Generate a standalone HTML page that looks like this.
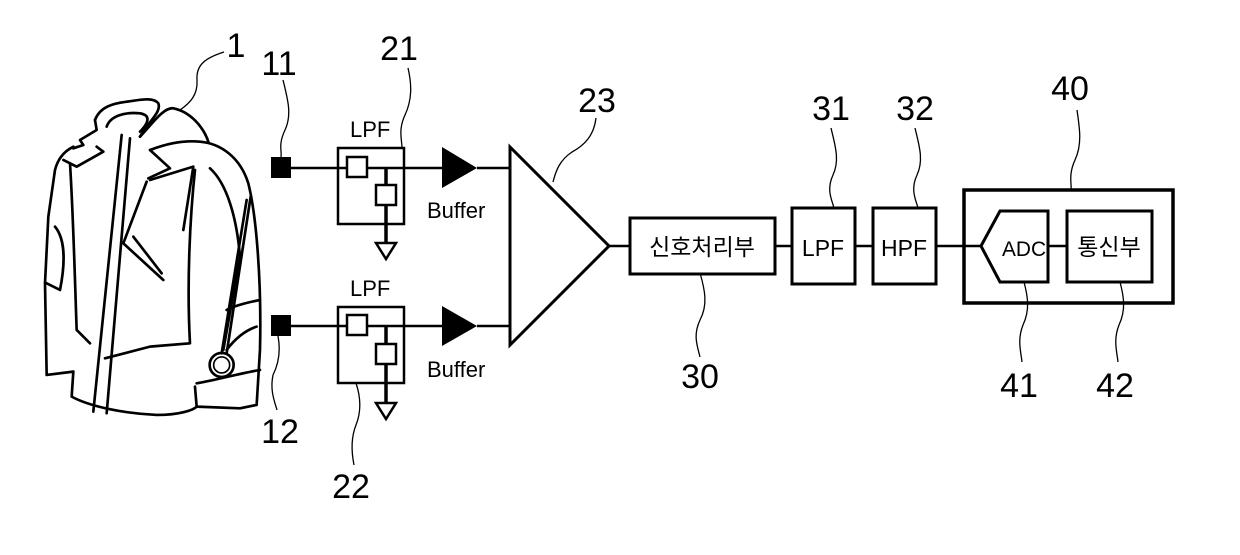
<!DOCTYPE html>
<html><head><meta charset="utf-8"><style>
html,body{margin:0;padding:0;background:#fff;}
svg{display:block;}
text{font-family:"Liberation Sans","Noto Sans CJK KR",sans-serif;fill:#000;}
.n{font-size:34px;}
</style></head><body>
<svg width="1240" height="555" viewBox="0 0 1240 555" xmlns="http://www.w3.org/2000/svg">
<g transform="translate(40,50) scale(0.3333)" fill="none" stroke="#000" stroke-width="8" stroke-linejoin="round" stroke-linecap="round">
<path d="M165,210 C180,170 220,160 260,155 C300,150 340,140 355,160 C365,185 330,210 300,260"/>
<path d="M200,230 C210,200 250,185 300,190 C330,195 330,215 300,245"/>
<path d="M300,260 C330,230 370,170 400,175 C450,185 490,230 505,275"/>
<path d="M165,210 L170,240 L120,270 L130,285 L100,295"/>
<path d="M100,290 C80,300 55,320 45,360 L25,500 L15,700 L20,975 L100,965"/>
<path d="M70,330 L110,350 L190,305 L170,290"/>
<path d="M90,340 C100,500 105,700 110,840 L150,880"/>
<path d="M45,530 C70,560 80,620 60,720 L20,700"/>
<path d="M100,965 L95,1040 C150,1070 250,1090 350,1095 C420,1095 460,1080 470,1070"/>
<path d="M245,255 L160,1085"/>
<path d="M270,265 L200,1090"/>
<path d="M330,300 C370,285 420,270 480,275 C540,280 600,320 625,400 C650,500 665,700 660,900 L650,1065 L600,1075 L470,1070 L465,1010"/>
<path d="M330,300 L390,355 L325,385"/>
<path d="M330,390 L460,350 L430,540"/>
<path d="M320,395 L250,580 L370,690"/>
<path d="M280,560 L365,670"/>
<path d="M465,360 C450,500 440,700 450,880 L330,890 L195,925"/>
<path d="M510,355 C560,400 590,500 600,620 L550,900"/>
<path d="M620,450 L545,910"/>
<path d="M632,440 L560,910"/>
<path d="M560,780 C600,760 640,755 660,750"/>
<path d="M470,1000 C530,990 600,970 660,960"/>
<path d="M560,900 C590,860 620,840 650,830"/>
<circle cx="545" cy="945" r="36"/>
<circle cx="545" cy="945" r="24" stroke-width="5"/>
</g>

<g fill="none" stroke="#000" stroke-width="1.3">
<path d="M224,52 C205,58 196,65 197,80 C198,95 190,103 180,110"/>
<path d="M283,80 C288,100 292,115 285,130 C278,145 282,150 281,157"/>
<path d="M408,68 C412,85 412,100 405,115 C398,130 402,140 402,148"/>
<path d="M596,118 C594,135 585,145 572,152 C560,160 556,170 553,182"/>
<path d="M278,336 C281,352 278,365 273,375 C270,390 274,400 277,410"/>
<path d="M356,383 C360,395 362,410 356,425 C350,440 352,455 354,465"/>
<path d="M831,128 C835,145 840,160 833,175 C826,190 832,200 834,208"/>
<path d="M915,128 C919,145 924,160 917,175 C910,190 916,200 918,208"/>
<path d="M1077,110 C1080,130 1082,145 1075,160 C1068,175 1072,185 1071,190"/>
<path d="M700,273 C705,290 708,305 700,320 C693,335 697,345 700,357"/>
<path d="M1024,282 C1028,297 1030,310 1023,325 C1017,340 1021,352 1022,362"/>
<path d="M1120,282 C1124,297 1126,310 1119,325 C1113,340 1117,352 1118,362"/>
</g>

<g fill="none" stroke="#000" stroke-width="2.5">
<line x1="290" y1="168" x2="442" y2="168"/>
<line x1="477" y1="168" x2="510" y2="168"/>
<rect x="338" y="148" width="66" height="76"/>
<rect x="347" y="157" width="20" height="20" fill="#fff"/>
<line x1="386" y1="168" x2="386" y2="243" stroke-width="3.5"/>
<rect x="376" y="185" width="20" height="20" fill="#fff"/>
<path d="M376,243 L396,243 L386,259 Z" fill="#fff"/>
<line x1="290" y1="326" x2="442" y2="326"/>
<line x1="477" y1="326" x2="510" y2="326"/>
<rect x="338" y="307" width="66" height="76"/>
<rect x="347" y="315" width="20" height="20" fill="#fff"/>
<line x1="386" y1="326" x2="386" y2="403" stroke-width="3.5"/>
<rect x="376" y="344" width="20" height="20" fill="#fff"/>
<path d="M376,403 L396,403 L386,419 Z" fill="#fff"/>
<path d="M510,147 L510,345 L609,246 Z" stroke-width="3"/>
<line x1="609" y1="246" x2="630" y2="246"/>
<rect x="630" y="218" width="145" height="56" stroke-width="3"/>
<line x1="775" y1="246" x2="792" y2="246"/>
<rect x="792" y="208" width="63" height="76" stroke-width="3"/>
<line x1="855" y1="246" x2="873" y2="246"/>
<rect x="873" y="208" width="63" height="76" stroke-width="3"/>
<line x1="936" y1="246" x2="981" y2="246"/>
<rect x="964" y="190" width="209" height="113" stroke-width="3.5"/>
<path d="M981,246 L1000,211 L1048,211 L1048,282 L1000,282 Z" stroke-width="3"/>
<line x1="1048" y1="246" x2="1067" y2="246"/>
<rect x="1067" y="211" width="85" height="71" stroke-width="3"/>
</g>
<rect x="271" y="157" width="20" height="21" fill="#000"/>
<rect x="271" y="315" width="20" height="21" fill="#000"/>
<path d="M442,147 L477,168 L442,188 Z" fill="#000"/>
<path d="M442,306 L477,326 L442,346 Z" fill="#000"/>

<text x="350" y="137" font-size="22">LPF</text>
<text x="350" y="296" font-size="22">LPF</text>
<text x="427" y="218" font-size="22">Buffer</text>
<text x="427" y="377" font-size="22">Buffer</text>
<text x="702" y="255" font-size="23" text-anchor="middle">신호처리부</text>
<text x="823" y="256" font-size="23" text-anchor="middle">LPF</text>
<text x="904" y="256" font-size="23" text-anchor="middle">HPF</text>
<text x="1002" y="256" font-size="21" textLength="44" lengthAdjust="spacingAndGlyphs">ADC</text>
<text x="1109" y="255" font-size="23" text-anchor="middle">통신부</text>

<text x="236" y="57" text-anchor="middle" class="n">1</text>
<text x="279" y="75" text-anchor="middle" class="n">11</text>
<text x="399" y="60" text-anchor="middle" class="n">21</text>
<text x="597" y="112" text-anchor="middle" class="n">23</text>
<text x="280" y="443" text-anchor="middle" class="n">12</text>
<text x="351" y="498" text-anchor="middle" class="n">22</text>
<text x="831" y="120" text-anchor="middle" class="n">31</text>
<text x="915" y="120" text-anchor="middle" class="n">32</text>
<text x="1070" y="100" text-anchor="middle" class="n">40</text>
<text x="700" y="388" text-anchor="middle" class="n">30</text>
<text x="1019" y="397" text-anchor="middle" class="n">41</text>
<text x="1115" y="397" text-anchor="middle" class="n">42</text>
</svg>
</body></html>
